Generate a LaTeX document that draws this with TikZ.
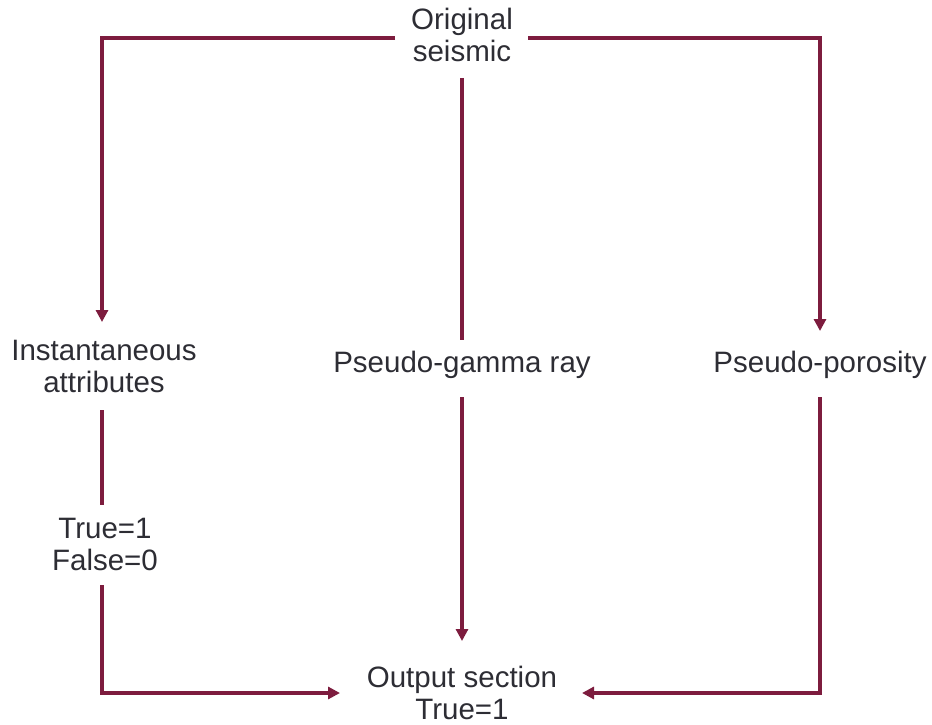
\documentclass[tikz,border=0pt]{standalone}
\usepackage{fontspec}
\setmainfont{Liberation Sans}
\usetikzlibrary{arrows.meta}
\definecolor{flow}{RGB}{125,28,62}
\definecolor{label}{RGB}{45,45,52}
\tikzset{
  lbl/.style={align=center, text=label, inner sep=0pt,
    font=\fontsize{29.5}{32}\selectfont},
  link/.style={draw=flow, line width=3.2pt},
  tip/.style={-{Triangle[length=12pt,width=12pt]}}
}
\begin{document}
\begin{tikzpicture}[x=1pt,y=-1pt]
\useasboundingbox (0,0) rectangle (932,725);
\node[lbl] (orig) at (462,35) {Original\\seismic};
\node[lbl] (inst) at (104,366) {Instantaneous\\attributes};
\node[lbl] (gamma) at (462,365) {Pseudo-gamma ray};
\node[lbl] (poro) at (820,365) {Pseudo-porosity};
\node[lbl] (tf) at (105,544) {True=1\\False=0};
\node[lbl] (out) at (462,693) {Output section\\True=1};
% branch points and corners
\coordinate (tl) at (102,38);
\coordinate (tr) at (820,38);
\coordinate (bl) at (102,693);
\coordinate (br) at (820,693);
% from the seismic down to the three attribute branches
\draw[link,tip] (395,38) -- (tl) -- (102,322);
\draw[link,tip] (528,38) -- (tr) -- (820,331);
\draw[link] (462,78) -- (462,340);
% from the attributes down to the output
\draw[link,tip] (462,397) -- (462,641);
\draw[link] (102,410) -- (102,505);
\draw[link,tip] (102,585) -- (bl) -- (340,693);
\draw[link,tip] (820,397) -- (br) -- (582,693);
\end{tikzpicture}
\end{document}
